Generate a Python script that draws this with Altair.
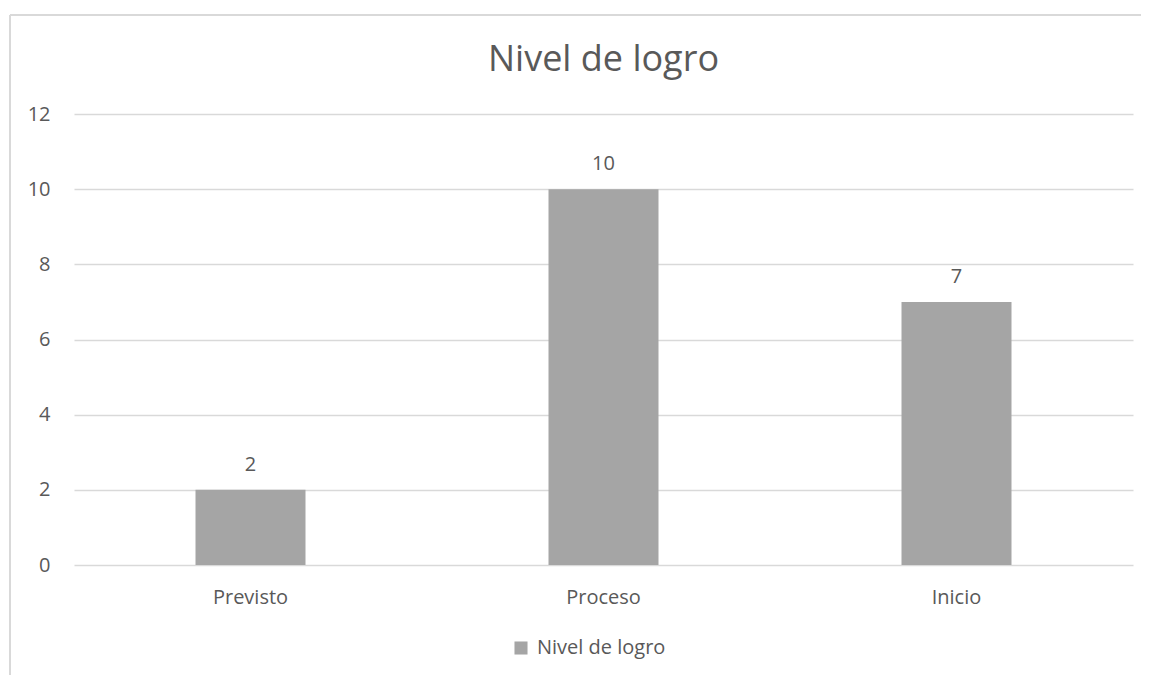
import altair as alt
import pandas as pd

categories = ["Previsto", "Proceso", "Inicio"]
values = [2, 10, 7]
series_name = "Nivel de logro"
chart_title = "Nivel de logro"

df = pd.DataFrame({"cat": categories, "val": values, "serie": [series_name] * 3})
title_df = pd.DataFrame({"t": [chart_title]})

W, H = 1059, 451
FONT = "Open Sans"
TXT = "#595959"
FS = 20

base = alt.Chart(df)

bars = base.mark_bar(size=110).encode(
    x=alt.X("cat:N", sort=categories, title=None,
            scale=alt.Scale(paddingInner=0, paddingOuter=0),
            axis=alt.Axis(domain=False, ticks=False, labelAngle=0, labelPadding=22,
                          labelFontSize=FS, labelColor=TXT, labelFont=FONT)),
    y=alt.Y("val:Q", title=None,
            scale=alt.Scale(domain=[0, 12]),
            axis=alt.Axis(values=[0, 2, 4, 6, 8, 10, 12], domain=False, ticks=False,
                          grid=True, gridColor="#d9d9d9", gridWidth=1.3,
                          labelPadding=24, labelFontSize=FS, labelColor=TXT, labelFont=FONT)),
    color=alt.Color("serie:N", scale=alt.Scale(range=["#a5a5a5"]),
                    legend=alt.Legend(title=None, orient="none", legendX=437, legendY=524,
                                      symbolType="square", symbolSize=170, labelOffset=6,
                                      labelFontSize=FS, labelColor=TXT, labelFont=FONT,
                                      symbolStrokeWidth=0)),
)

labels = base.mark_text(dy=-25, fontSize=FS, color=TXT, font=FONT).encode(
    x=alt.X("cat:N", sort=categories),
    y="val:Q",
    text="val:Q",
)

title = alt.Chart(title_df).mark_text(fontSize=36, color=TXT, font=FONT).encode(
    text="t:N", x=alt.value(W / 2), y=alt.value(-54))

# outer chart border (decoration)
border_top = alt.Chart(df).mark_rule(color="#d9d9d9", strokeWidth=1.5, clip=False).encode(
    x=alt.value(-64), x2=alt.value(1100), y=alt.value(-99))
border_left = alt.Chart(df).mark_rule(color="#d9d9d9", strokeWidth=1.5, clip=False).encode(
    x=alt.value(-64), y=alt.value(-99), y2=alt.value(600))

chart = alt.layer(border_top, border_left, bars, labels, title).properties(
    width=W, height=H,
    autosize=alt.AutoSizeParams(type="none"),
    padding={"left": 66, "top": 106, "right": 8, "bottom": 110},
).configure(background="white").configure_view(strokeWidth=0)

chart.save("out.html", embed_options={"renderer": "svg", "actions": False})
